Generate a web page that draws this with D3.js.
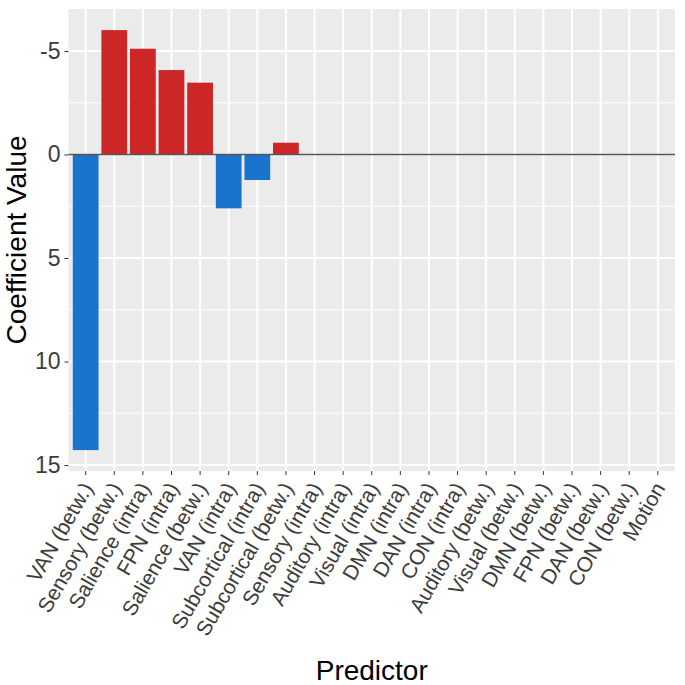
<!DOCTYPE html>
<html><head><meta charset="utf-8">
<script src="https://cdn.jsdelivr.net/npm/d3@7"></script>
<style>body{margin:0;background:#fff;}svg{display:block;}</style>
</head><body>
<svg id="c" width="685" height="685"></svg>
<script>
const categories = ["VAN (betw.)","Sensory (betw.)","Salience (intra)","FPN (intra)","Salience (betw.)","VAN (intra)","Subcortical (intra)","Subcortical (betw.)","Sensory (intra)","Auditory (intra)","Visual (intra)","DMN (intra)","DAN (intra)","CON (intra)","Auditory (betw.)","Visual (betw.)","DMN (betw.)","FPN (betw.)","DAN (betw.)","CON (betw.)","Motion"];
const values = [14.28,-6.01,-5.11,-4.08,-3.47,2.60,1.23,-0.57,0,0,0,0,0,0,0,0,0,0,0,0,0];
const yTicks = [-5,0,5,10,15];
const yTickLabels = ["-5","0","5","10","15"];
const yMinor = [-2.5,2.5,7.5,12.5];

const svg = d3.select("#c");
const L = 68.5, R = 675, T = 9, B = 471;
const x = d3.scaleBand().domain(categories).range([L,R]).paddingInner(0.1).paddingOuter(0.15);
const y = d3.scaleLinear().domain([-7.03,15.29]).range([T,B]);

svg.append("rect").attr("x",L).attr("y",T).attr("width",R-L).attr("height",B-T).attr("fill","#EBEBEB");
const g = svg.append("g");
g.selectAll(".minor").data(yMinor).join("line").attr("x1",L).attr("x2",R)
  .attr("y1",d=>y(d)).attr("y2",d=>y(d)).attr("stroke","#fff").attr("stroke-width",1);
g.selectAll(".major").data(yTicks).join("line").attr("x1",L).attr("x2",R)
  .attr("y1",d=>y(d)).attr("y2",d=>y(d)).attr("stroke","#fff").attr("stroke-width",2);
g.selectAll(".vg").data(categories).join("line")
  .attr("x1",d=>x(d)+x.bandwidth()/2).attr("x2",d=>x(d)+x.bandwidth()/2)
  .attr("y1",T).attr("y2",B).attr("stroke","#fff").attr("stroke-width",2);

g.selectAll(".bar").data(categories.map((c,i)=>({c,v:values[i]})).filter(d=>d.v!==0)).join("rect")
  .attr("x",d=>x(d.c)).attr("width",x.bandwidth())
  .attr("y",d=>Math.min(y(0),y(d.v))).attr("height",d=>Math.abs(y(d.v)-y(0)))
  .attr("fill",d=>d.v<0?"#CD2626":"#1874CD");

g.append("line").attr("x1",L).attr("x2",R).attr("y1",y(0)).attr("y2",y(0))
  .attr("stroke","#555").attr("stroke-width",1.6);

// y axis
const ya = svg.append("g").attr("transform",`translate(${L},0)`)
  .call(d3.axisLeft(y).tickValues(yTicks).tickFormat((d,i)=>yTickLabels[i]).tickSize(4).tickPadding(4));
ya.select(".domain").remove();
ya.selectAll("line").attr("stroke","#333").attr("stroke-width",1);
ya.selectAll("text").attr("font-family","Liberation Sans, Arial, sans-serif").attr("font-size",23).attr("fill","#3C3C3C");

// x axis
const xa = svg.append("g").attr("transform",`translate(0,${B})`)
  .call(d3.axisBottom(x).tickSize(4).tickPadding(4));
xa.select(".domain").remove();
xa.selectAll("line").attr("stroke","#333").attr("stroke-width",1);
xa.selectAll("text").attr("font-family","Liberation Sans, Arial, sans-serif").attr("font-size",21).attr("fill","#3C3C3C")
  .attr("text-anchor","end").attr("dy",null).attr("y",0)
  .attr("transform","translate(8,17) rotate(-60)");

svg.append("text").attr("x",(L+R)/2).attr("y",680).attr("text-anchor","middle")
  .attr("font-family","Liberation Sans, Arial, sans-serif").attr("font-size",28).attr("fill","#000").text("Predictor");
svg.append("text").attr("transform",`translate(26,${(T+B)/2}) rotate(-90)`).attr("text-anchor","middle")
  .attr("font-family","Liberation Sans, Arial, sans-serif").attr("font-size",28).attr("fill","#000").text("Coefficient Value");
</script>
</body></html>
